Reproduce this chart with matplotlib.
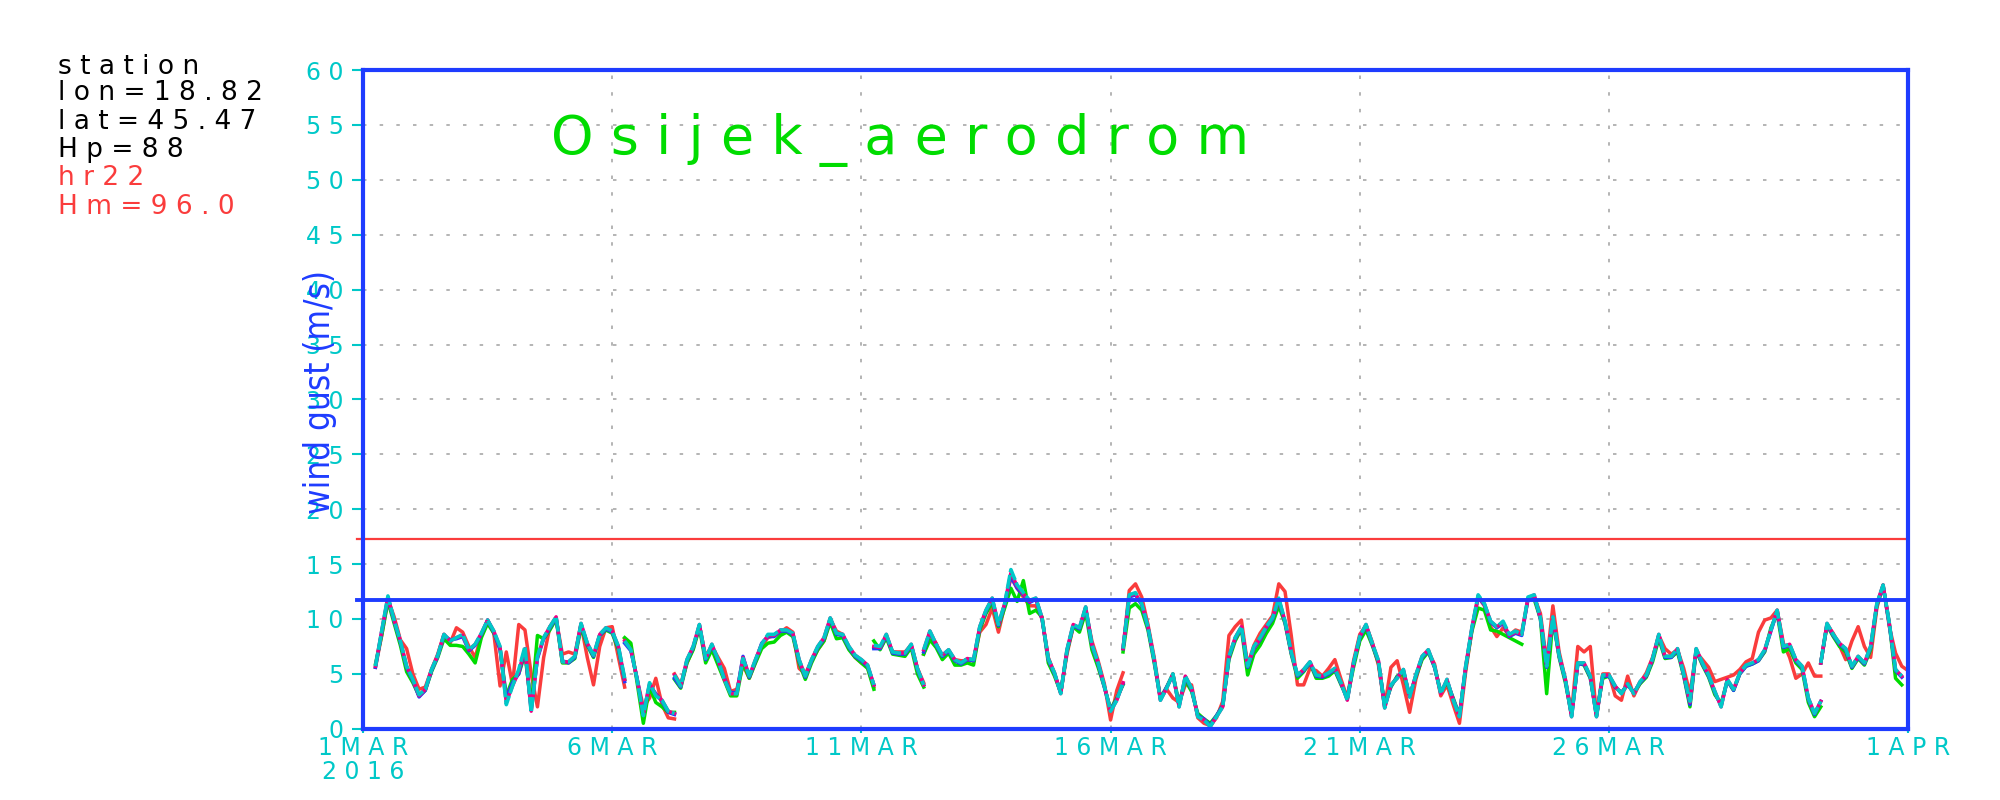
import numpy as np
import matplotlib
matplotlib.use("Agg")
import matplotlib.pyplot as plt

nan = np.nan

# 3-hourly wind gust (m/s), 1 Mar 00Z .. 1 Apr 00Z 2016
# at a new forecast run (break_hours) the value is the new run's first value,
# the *_end lists hold the last value of the old run at that same hour
break_hours = [126, 150, 246, 270, 366, 702]

red = [
    nan, nan, 5.6, 8.5, 11.8, 10.2, 8.1, 7.3,
    5.0, 3.6, 3.8, 5.4, 6.8, 8.6, 7.8, 9.2,
    8.8, 7.5, 6.5, 8.5, 9.9, 8.7, 3.9, 7.0,
    4.0, 9.5, 9.0, 5.0, 2.0, 6.5, 9.3, 10.0,
    6.8, 7.0, 6.8, 9.5, 6.5, 4.0, 7.5, 9.2,
    9.3, 6.5, 8.2, 7.3, 4.5, 2.0, 2.8, 4.6,
    2.2, 1.0, 5.0, 4.0, 6.0, 7.3, 9.4, 6.6,
    7.5, 6.5, 5.5, 3.4, 3.6, 5.8, 4.6, 6.1,
    7.6, 8.3, 8.5, 8.8, 9.2, 8.8, 5.5, 5.0,
    6.2, 7.2, 8.0, 10.0, 8.9, 8.6, 7.3, 6.5,
    6.0, 5.6, 7.4, 7.3, 8.4, 7.0, 7.0, 7.0,
    7.6, 5.5, 6.8, 8.6, 7.8, 6.4, 7.0, 6.3,
    6.2, 6.2, 6.2, 8.8, 9.5, 11.0, 8.8, 11.2,
    13.8, 12.8, 12.0, 11.2, 11.2, 10.0, 6.5, 5.0,
    3.3, 6.8, 9.3, 9.0, 10.8, 8.0, 6.2, 4.1,
    0.8, 3.5, 7.3, 12.6, 13.2, 12.0, 9.5, 6.5,
    2.8, 3.6, 2.8, 2.4, 4.0, 4.0, 1.0, 0.5,
    0.3, 1.0, 2.5, 8.5, 9.3, 9.9, 5.8, 7.6,
    8.7, 9.5, 10.3, 13.2, 12.5, 8.5, 4.0, 4.0,
    5.5, 5.3, 4.8, 5.5, 6.3, 4.5, 2.8, 6.2,
    8.6, 9.4, 7.9, 5.8, 2.0, 5.6, 6.2, 4.0,
    1.5, 4.5, 6.5, 7.0, 5.9, 3.0, 4.0, 2.2,
    0.5, 5.2, 9.0, 12.0, 11.2, 9.3, 8.4, 9.2,
    8.5, 9.0, 8.8, 11.8, 12.0, 10.5, 6.0, 11.2,
    7.0, 4.5, 1.5, 7.5, 7.0, 7.5, 1.2, 5.0,
    5.0, 3.0, 2.6, 4.8, 3.0, 4.2, 5.1, 6.5,
    8.5, 7.3, 6.8, 7.2, 5.5, 3.2, 7.0, 6.3,
    5.6, 4.3, 4.5, 4.7, 4.9, 5.4, 6.1, 6.4,
    8.8, 9.9, 10.1, 10.8, 7.8, 6.5, 4.6, 5.0,
    6.0, 4.8, 6.0, 9.5, 8.7, 7.6, 6.3, 8.0,
    9.3, 7.5, 6.5, 11.0, 13.1, 9.3, 6.9, 5.7,
    5.3,
]
red_end = [3.8, 0.9, 3.8, 4.2, 5.1, 4.8]

green = [
    nan, nan, 5.9, 8.5, 11.6, 9.6, 7.6, 5.2,
    4.2, 3.0, 3.5, 5.2, 6.5, 8.2, 7.6, 7.6,
    7.5, 6.8, 6.0, 8.3, 9.6, 8.7, 7.3, 3.0,
    4.5, 5.0, 6.8, 2.0, 8.5, 8.2, 9.0, 10.0,
    6.0, 6.0, 6.4, 9.2, 7.6, 6.5, 8.5, 9.0,
    8.7, 7.2, 8.3, 7.8, 4.2, 0.5, 3.8, 2.4,
    2.0, 1.5, 4.5, 3.7, 6.0, 7.2, 9.2, 6.0,
    7.2, 5.8, 4.4, 3.0, 3.0, 6.0, 4.6, 6.0,
    7.3, 7.8, 7.9, 8.5, 8.8, 8.4, 6.0, 4.5,
    6.0, 7.2, 8.0, 9.7, 8.2, 8.3, 7.2, 6.5,
    6.0, 5.5, 8.0, 7.2, 8.3, 6.8, 6.7, 6.6,
    7.4, 5.0, 6.8, 8.1, 7.4, 6.3, 6.9, 5.8,
    5.8, 6.0, 5.8, 9.0, 10.5, 11.5, 9.3, 11.0,
    12.8, 11.6, 13.5, 10.5, 10.8, 10.2, 6.0, 4.8,
    3.3, 7.0, 9.3, 8.8, 10.6, 7.2, 5.6, 3.8,
    1.8, 2.8, 7.0, 11.0, 11.4, 10.8, 9.0, 6.0,
    2.8, 3.8, 5.0, 2.3, 4.4, 3.4, 1.4, 0.9,
    0.5, 1.2, 2.1, 6.3, 8.0, 9.1, 4.9, 6.8,
    7.6, 8.7, 9.6, 11.2, 9.6, 6.8, 4.6, 5.2,
    6.0, 4.6, 4.6, 4.8, 5.3, 4.0, 2.8, 5.6,
    8.0, 9.0, 7.6, 6.0, 2.2, 3.8, 4.8, 5.0,
    3.0, 4.7, 6.3, 7.0, 5.6, 3.4, 4.2, 2.8,
    1.2, 5.5, 8.9, 11.0, 10.8, 9.0, 8.9, 8.6,
    8.3, 8.0, 7.7, nan, 11.8, 10.0, 3.2, 10.0,
    6.5, 4.2, 1.3, 6.0, 5.8, 4.6, 1.3, 4.6,
    4.8, 3.8, 3.3, 4.0, 3.3, 4.1, 4.7, 6.1,
    8.2, 6.4, 6.5, 7.0, 4.8, 2.0, 7.1, 5.8,
    4.7, 3.1, 2.3, 4.4, 3.5, 5.0, 5.7, 5.9,
    6.2, 7.0, 9.2, 10.5, 7.0, 7.3, 6.0, 5.4,
    2.4, 1.1, 6.0, 9.4, 8.4, 7.5, 7.0, 5.5,
    6.4, 5.8, 7.2, 11.2, 13.0, 9.6, 4.6, 4.0,
    nan,
]
green_end = [4.5, 1.5, 3.6, 3.8, 4.0, 2.0]

blue = [
    nan, nan, 5.6, 8.8, 11.9, 9.8, 7.9, 5.6,
    4.4, 2.9, 3.5, 5.3, 6.6, 8.5, 8.1, 8.2,
    8.4, 7.1, 7.6, 8.6, 9.9, 8.8, 7.2, 2.8,
    4.2, 5.0, 7.2, 1.8, 6.4, 8.2, 9.2, 10.1,
    6.2, 6.0, 6.5, 9.5, 7.7, 6.6, 8.5, 9.1,
    8.8, 7.4, 7.8, 7.1, 4.6, 1.4, 4.0, 3.2,
    2.5, 1.5, 4.6, 3.8, 6.2, 7.4, 9.4, 6.3,
    7.6, 6.2, 4.6, 3.3, 3.3, 6.6, 4.7, 6.2,
    7.8, 8.4, 8.4, 8.9, 8.9, 8.6, 6.2, 4.7,
    6.2, 7.4, 8.2, 10.0, 8.6, 8.5, 7.4, 6.6,
    6.2, 5.7, 7.3, 7.3, 8.5, 6.9, 6.8, 6.8,
    7.6, 5.4, 7.0, 8.8, 7.6, 6.6, 7.1, 6.2,
    5.9, 6.3, 6.2, 9.2, 10.7, 11.8, 9.4, 11.3,
    13.9, 12.8, 12.2, 11.5, 11.8, 10.0, 6.3, 5.0,
    3.3, 7.1, 9.4, 9.1, 11.0, 7.6, 5.9, 3.8,
    1.7, 2.7, 7.3, 12.0, 12.2, 11.3, 9.2, 6.2,
    2.7, 3.8, 4.9, 2.1, 4.7, 3.6, 1.2, 0.9,
    0.3, 1.2, 2.1, 6.5, 8.2, 9.2, 5.6, 7.3,
    8.1, 9.2, 10.0, 11.7, 9.7, 6.9, 4.8, 5.3,
    6.0, 4.8, 4.7, 5.0, 5.4, 4.1, 2.7, 5.9,
    8.3, 9.4, 7.7, 6.1, 2.0, 3.9, 4.7, 5.3,
    3.0, 4.8, 6.5, 7.1, 5.6, 3.3, 4.4, 2.7,
    1.2, 5.6, 9.1, 12.0, 11.3, 9.7, 9.2, 9.6,
    8.4, 8.7, 8.5, 11.8, 12.1, 10.0, 5.6, 10.1,
    6.6, 4.4, 1.2, 5.9, 5.9, 4.7, 1.2, 4.8,
    4.8, 3.8, 3.3, 4.0, 3.3, 4.2, 4.8, 6.3,
    8.5, 6.5, 6.5, 7.2, 4.9, 2.2, 7.2, 5.9,
    4.8, 3.3, 2.1, 4.4, 3.5, 5.0, 5.7, 5.9,
    6.2, 7.1, 8.9, 10.7, 7.4, 7.6, 6.2, 5.6,
    2.7, 1.3, 6.0, 9.5, 8.5, 7.7, 7.2, 5.6,
    6.5, 5.9, 7.4, 11.3, 13.0, 9.5, 5.3, 4.7,
    nan,
]
blue_end = [4.3, 1.3, 4.0, 4.0, 4.1, 2.5]

magenta = [
    nan, nan, 5.7, 8.9, 12.0, 9.9, 8.0, 5.7,
    4.5, 3.0, 3.6, 5.4, 6.7, 8.6, 8.0, 8.3,
    8.5, 7.2, 7.7, 8.7, 9.9, 8.9, 7.4, 2.4,
    3.9, 5.2, 7.3, 1.6, 6.5, 8.3, 9.3, 10.2,
    6.1, 6.1, 6.6, 9.6, 7.8, 6.7, 8.6, 9.2,
    8.9, 7.5, 8.0, 7.2, 4.5, 1.3, 4.1, 3.1,
    2.6, 1.6, 4.9, 3.9, 6.3, 7.5, 9.5, 6.4,
    7.7, 6.3, 4.5, 3.2, 3.2, 6.5, 4.8, 6.3,
    7.7, 8.5, 8.5, 9.0, 9.0, 8.7, 6.3, 4.8,
    6.3, 7.5, 8.3, 10.1, 8.7, 8.6, 7.5, 6.7,
    6.3, 5.8, 7.5, 7.4, 8.6, 7.0, 6.9, 6.9,
    7.7, 5.5, 7.2, 8.9, 7.7, 6.7, 7.2, 6.3,
    6.0, 6.4, 6.3, 9.3, 10.8, 11.9, 9.5, 11.4,
    14.2, 13.0, 12.3, 11.6, 11.9, 10.1, 6.4, 5.1,
    3.2, 7.2, 9.5, 9.2, 11.1, 7.7, 6.0, 3.9,
    1.6, 2.6, 7.3, 12.1, 12.3, 11.4, 9.3, 6.3,
    2.6, 3.7, 5.0, 2.0, 4.8, 3.7, 1.1, 0.8,
    0.2, 1.1, 2.0, 6.6, 8.3, 9.3, 5.7, 7.4,
    8.2, 9.3, 10.1, 11.8, 9.8, 7.0, 4.9, 5.4,
    6.1, 4.9, 4.8, 5.1, 5.5, 4.2, 2.6, 6.0,
    8.4, 9.5, 7.8, 6.2, 1.9, 4.0, 4.6, 5.4,
    2.9, 4.9, 6.6, 7.2, 5.7, 3.2, 4.5, 2.6,
    1.1, 5.7, 9.2, 12.1, 11.4, 9.8, 9.3, 9.7,
    8.5, 8.8, 8.6, 11.9, 12.2, 10.1, 5.7, 10.2,
    6.7, 4.5, 1.1, 6.0, 6.0, 4.8, 1.1, 4.9,
    4.9, 3.9, 3.2, 4.1, 3.2, 4.3, 4.9, 6.4,
    8.6, 6.6, 6.6, 7.3, 5.0, 2.4, 7.3, 6.0,
    4.9, 3.4, 2.0, 4.5, 3.6, 5.1, 5.8, 6.0,
    6.3, 7.2, 9.0, 10.8, 7.5, 7.7, 6.3, 5.7,
    2.8, 1.4, 6.0, 9.6, 8.6, 7.8, 7.3, 5.7,
    6.6, 6.0, 7.5, 11.4, 13.1, 9.6, 5.4, 4.8,
    nan,
]
magenta_end = [4.5, 1.4, 4.0, 4.0, 4.2, 2.5]

cyan = [
    nan, nan, 5.7, 8.9, 12.1, 9.9, 8.0, 5.7,
    4.5, 3.1, 3.6, 5.4, 6.7, 8.6, 8.0, 8.3,
    8.6, 7.2, 7.7, 8.7, 9.9, 8.9, 7.5, 2.2,
    3.9, 5.4, 7.5, 1.5, 6.6, 8.3, 9.3, 10.2,
    6.1, 6.1, 6.6, 9.6, 7.8, 6.7, 8.6, 9.2,
    8.9, 7.5, 8.0, 7.2, 4.5, 1.2, 4.2, 3.0,
    2.6, 1.6, 4.9, 3.9, 6.3, 7.5, 9.5, 6.4,
    7.7, 6.3, 4.5, 3.2, 3.2, 6.4, 4.8, 6.3,
    7.7, 8.6, 8.6, 9.0, 9.0, 8.7, 6.3, 4.8,
    6.3, 7.5, 8.3, 10.1, 8.7, 8.6, 7.5, 6.7,
    6.3, 5.8, 7.6, 7.5, 8.6, 7.0, 6.9, 6.9,
    7.7, 5.5, 7.2, 8.9, 7.7, 6.7, 7.2, 6.3,
    6.0, 6.4, 6.3, 9.3, 10.8, 11.9, 9.5, 11.4,
    14.5, 13.1, 12.4, 11.7, 11.9, 10.1, 6.4, 5.1,
    3.2, 7.2, 9.5, 9.2, 11.1, 7.7, 6.0, 3.9,
    1.6, 2.6, 7.3, 12.2, 12.4, 11.4, 9.3, 6.3,
    2.6, 3.7, 5.0, 2.0, 4.8, 3.7, 1.1, 0.8,
    0.2, 1.1, 2.0, 6.6, 8.3, 9.3, 5.7, 7.5,
    8.3, 9.3, 10.1, 11.9, 9.8, 7.0, 4.9, 5.4,
    6.1, 4.9, 4.8, 5.1, 5.5, 4.2, 2.6, 6.0,
    8.4, 9.5, 7.8, 6.2, 1.9, 4.0, 4.6, 5.4,
    2.9, 4.9, 6.6, 7.2, 5.7, 3.2, 4.5, 2.6,
    1.1, 5.7, 9.2, 12.2, 11.4, 9.8, 9.3, 9.8,
    8.6, 8.9, 8.6, 12.0, 12.2, 10.1, 5.7, 10.2,
    6.7, 4.5, 1.1, 6.0, 6.0, 4.8, 1.1, 4.9,
    4.9, 3.9, 3.2, 4.1, 3.2, 4.3, 4.9, 6.4,
    8.6, 6.6, 6.6, 7.3, 5.0, 2.5, 7.3, 6.0,
    4.9, 3.4, 2.0, 4.5, 3.6, 5.1, 5.8, 6.0,
    6.3, 7.2, 9.0, 10.8, 7.5, 7.7, 6.3, 5.7,
    2.8, 1.4, 6.0, 9.6, 8.6, 7.8, 7.3, 5.7,
    6.6, 6.0, 7.5, 11.4, 13.1, 9.6, 5.4, 4.8,
    nan,
]
cyan_end = [4.6, 1.4, 4.0, 4.0, 4.2, 2.5]

hours = np.arange(0, 745, 3)  # 3-hourly steps through March

red_threshold = 17.3
blue_threshold = 11.7

xtick_hours = [0, 120, 240, 360, 480, 600, 744]
xtick_labels = ["1MAR\n2016", "6MAR", "11MAR", "16MAR", "21MAR", "26MAR", "1APR"]
ytick_values = list(range(0, 61, 5))

info_lines = ["station", "lon=18.82", "lat=45.47", "Hp=88", "hr22", "Hm=96.0"]
info_colors = ["black", "black", "black", "black", "#fa3c3c", "#fa3c3c"]
title = "Osijek_aerodrom"

C_RED = "#fa3c3c"
C_GREEN = "#00dc00"
C_BLUE = "#1e3cff"
C_MAG = "#f00082"
C_CYAN = "#00c8c8"


def spaced(s):
    return " ".join(s)


def draw_runs(ax, vals, ends, **kw):
    # split at the run changes, closing each old run at the break hour
    v = np.array(vals, float)
    idx = [h // 3 for h in break_hours]
    bounds = [0] + idx + [len(v)]
    for k in range(len(bounds) - 1):
        a, b = bounds[k], bounds[k + 1]
        x = list(hours[a:b])
        y = list(v[a:b])
        if k < len(ends):
            x.append(break_hours[k])
            y.append(ends[k])
        ax.plot(x, y, **kw)


plt.rcParams["font.family"] = ["DejaVu Sans"]
plt.rcParams["lines.scale_dashes"] = False

fig = plt.figure(figsize=(20, 8), dpi=100)
ax = fig.add_axes([0.1815, 0.089, 0.7725, 0.8235])

draw_runs(ax, red, red_end, color=C_RED, lw=2.5, zorder=3)
draw_runs(ax, green, green_end, color=C_GREEN, lw=2.5, zorder=4)
draw_runs(ax, blue, blue_end, color=C_BLUE, lw=2.5, zorder=5)
draw_runs(ax, magenta, magenta_end, color=C_MAG, lw=2.5, zorder=6)
draw_runs(ax, cyan, cyan_end, color=C_CYAN, lw=2.6, dashes=(10, 2), zorder=7)

ax.axhline(red_threshold, xmin=-0.004, xmax=1, color=C_RED, lw=1.6, clip_on=False, zorder=8)
ax.axhline(blue_threshold, xmin=-0.004, xmax=1, color=C_BLUE, lw=2.8, clip_on=False, zorder=8)

ax.set_xlim(0, 744)
ax.set_ylim(0, 60)
ax.set_xticks(xtick_hours)
ax.set_xticklabels(["\n".join(spaced(p) for p in l.split("\n")) for l in xtick_labels],
                   linespacing=1.0)
ax.set_yticks(ytick_values)
ax.set_yticklabels([spaced(str(v)) for v in ytick_values])

ax.tick_params(axis="y", direction="out", length=8, width=1.5, color=C_CYAN,
               labelcolor=C_CYAN, labelsize=17, pad=6)
ax.tick_params(axis="x", direction="out", length=3, width=1.5, color=C_CYAN,
               labelcolor=C_CYAN, labelsize=17, pad=2)

ax.set_axisbelow(True)
ax.grid(True, color="#b4b4b4", lw=1.4, linestyle=(0, (2.5, 9.5)))

for s in ax.spines.values():
    s.set_color(C_BLUE)
    s.set_linewidth(3)
    s.set_zorder(9)

fig.text(0.16, 0.51, "wind gust (m/s)", rotation=90, ha="center", va="center",
         color=C_BLUE, fontsize=25, fontstretch="condensed",
         family=["Liberation Sans Narrow", "DejaVu Sans"])

fig.text(0.2755, 0.825, spaced(title), color=C_GREEN, fontsize=39,
         ha="left", va="center")

ys = [67, 93, 122, 150, 178, 207]
for txt, col, yp in zip(info_lines, info_colors, ys):
    fig.text(0.029, 1 - yp / 800, spaced(txt), color=col, fontsize=19,
             ha="left", va="center")

fig.savefig("out.png", dpi=100)
